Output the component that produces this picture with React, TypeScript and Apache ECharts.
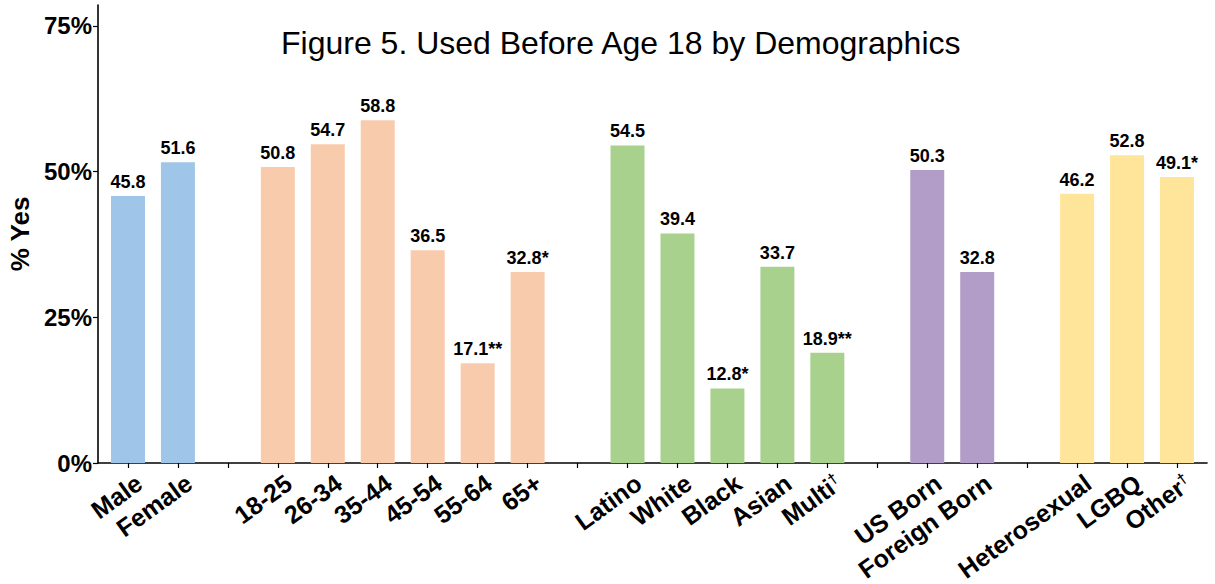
import React, { useEffect, useRef } from "react";
import * as echarts from "echarts";

const categories = [
  "Male", "Female", "",
  "18-25", "26-34", "35-44", "45-54", "55-64", "65+", "",
  "Latino", "White", "Black", "Asian", "Multi†", "",
  "US Born", "Foreign Born", "",
  "Heterosexual", "LGBQ", "Other†",
];
const values: (number | null)[] = [
  45.8, 51.6, null,
  50.8, 54.7, 58.8, 36.5, 17.1, 32.8, null,
  54.5, 39.4, 12.8, 33.7, 18.9, null,
  50.3, 32.8, null,
  46.2, 52.8, 49.1,
];
const suffixes = [
  "", "", "",
  "", "", "", "", "**", "*", "",
  "", "", "*", "", "**", "",
  "", "", "",
  "", "", "*",
];
const groups = [
  0, 0, -1,
  1, 1, 1, 1, 1, 1, -1,
  2, 2, 2, 2, 2, -1,
  3, 3, -1,
  4, 4, 4,
];
const groupColors = ["#9fc5e8", "#f8cbad", "#a9d18e", "#b19dc7", "#ffe599"];
const yTicks = [0, 25, 50, 75];
const titleText = "Figure 5. Used Before Age 18 by Demographics";
const FONT = "Liberation Sans, Arial, sans-serif";
const LABEL_SHIFT = 0.22; // labels sit slightly right of their tick, as in the reference

export default function App() {
  const ref = useRef<HTMLDivElement>(null);
  useEffect(() => {
    document.body.style.margin = "0";
    const chart = echarts.init(ref.current!, null, { renderer: "svg" });
    const idx = categories.map((_, i) => i);
    const data = values
      .map((v, i) =>
        v == null
          ? null
          : {
              value: [i, v],
              itemStyle: { color: groupColors[groups[i]] },
              label: { formatter: v.toFixed(1) + suffixes[i] },
            }
      )
      .filter((d) => d !== null);
    chart.setOption({
      animation: false,
      title: {
        text: titleText,
        left: 276,
        top: 22,
        textStyle: { fontFamily: FONT, fontSize: 32, fontWeight: "normal", color: "#000" },
      },
      grid: { left: 98, right: 8, top: 5, bottom: 121, containLabel: false, outerBoundsMode: "none" },
      xAxis: {
        type: "value",
        min: -0.6,
        max: 21.6,
        splitLine: { show: false },
        axisLine: { show: true, onZero: false, lineStyle: { color: "#000", width: 1.6 } },
        axisTick: { show: true, customValues: idx, length: 5, lineStyle: { color: "#000", width: 1.2 } },
        axisLabel: {
          customValues: idx.filter((i) => categories[i] !== "").map((i) => i + LABEL_SHIFT),
          rotate: 36,
          margin: 17,
          fontFamily: FONT,
          fontSize: 25,
          fontWeight: "bold",
          color: "#000",
          formatter: (v: number) => {
            const s = categories[Math.round(v - LABEL_SHIFT)] || "";
            if (s.endsWith("†")) return "{a|" + s.slice(0, -1) + "}{s|†}";
            return s;
          },
          rich: {
            a: { fontFamily: FONT, fontSize: 25, fontWeight: "bold", color: "#000" },
            s: { fontFamily: FONT, fontSize: 15, fontWeight: "bold", color: "#000", verticalAlign: "top", padding: [0, 0, 10, 0] },
          },
        },
      },
      yAxis: {
        type: "value",
        min: 0,
        max: 78.6,
        name: "% Yes",
        nameLocation: "middle",
        nameGap: 53,
        nameTextStyle: { fontFamily: FONT, fontSize: 26, fontWeight: "bold", color: "#000" },
        splitLine: { show: false },
        axisLine: { show: true, onZero: false, lineStyle: { color: "#000", width: 1.6 } },
        axisTick: { show: true, customValues: yTicks, length: 5, lineStyle: { color: "#000", width: 1.2 } },
        axisLabel: {
          customValues: yTicks,
          margin: 6,
          fontFamily: FONT,
          fontSize: 24,
          fontWeight: "bold",
          color: "#000",
          formatter: (v: number) => v + "%",
        },
      },
      series: [
        {
          type: "bar",
          barWidth: 34,
          data,
          label: {
            show: true,
            position: "top",
            distance: 5,
            fontFamily: FONT,
            fontSize: 18,
            fontWeight: "bold",
            color: "#000",
          },
        },
      ],
    });
    return () => chart.dispose();
  }, []);
  return <div ref={ref} style={{ width: 1215, height: 584 }} />;
}
